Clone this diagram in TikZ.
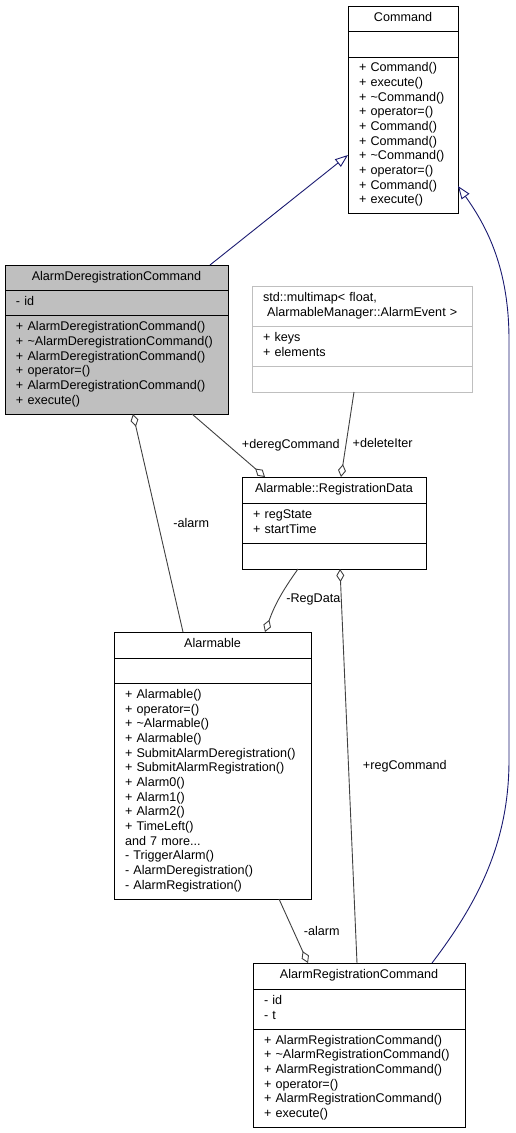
\documentclass[tikz,border=0pt]{standalone}
\usepackage{fontspec}
\setmainfont{Liberation Sans}
\usepackage{tikz}
\usetikzlibrary{positioning, arrows.meta}
\definecolor{edgegrey}{HTML}{404040}
\definecolor{inheritblue}{HTML}{191970}
\definecolor{boxgrey}{HTML}{BFBFBF}
\newcommand{\umlfont}{\fontsize{12.6}{14.67}\selectfont}
\tikzset{
    umlpart/.style={draw, line width=1pt, inner xsep=11pt, inner ysep=0pt, outer sep=0pt, align=left, font=\umlfont,
        execute at begin node=\strut, execute at end node=\strut},
    umltitle/.style={umlpart, align=center},
    aggr/.style={draw=edgegrey, line width=0.9pt, -{Diamond[open, length=13pt, width=8pt]}},
    inherit/.style={draw=inheritblue, line width=0.9pt, -{Triangle[open, length=13pt, width=9.5pt]}},
    elabel/.style={font=\umlfont, inner sep=0pt, anchor=west}
}

\begin{document}
\begin{tikzpicture}[x=1pt, y=-1pt]
    \useasboundingbox (0,0) rectangle (515,1133);

    % Command
    \node [umltitle, text width=88pt, minimum height=25.5pt, anchor=north west] (cmdTitle) at (348,6) {Command};
    \node [umlpart, text width=88pt, minimum height=25.5pt, below=0pt of cmdTitle] (cmdAttr) {};
    \node [umlpart, text width=88pt, minimum height=156pt, below=0pt of cmdAttr] (cmdMeth) {+ Command()\\+ execute()\\+ \textasciitilde Command()\\+ operator=()\\+ Command()\\+ Command()\\+ \textasciitilde Command()\\+ operator=()\\+ Command()\\+ execute()};

    % AlarmDeregistrationCommand (highlighted)
    \node [umltitle, fill=boxgrey, text width=201pt, minimum height=25pt, anchor=north west] (adcTitle) at (5,265) {AlarmDeregistrationCommand};
    \node [umlpart, fill=boxgrey, text width=201pt, minimum height=25pt, below=0pt of adcTitle] (adcAttr) {- id};
    \node [umlpart, fill=boxgrey, text width=201pt, minimum height=99pt, below=0pt of adcAttr] (adcMeth) {+ AlarmDeregistrationCommand()\\+ \textasciitilde AlarmDeregistrationCommand()\\+ AlarmDeregistrationCommand()\\+ operator=()\\+ AlarmDeregistrationCommand()\\+ execute()};

    % std::multimap
    \node [umlpart, draw=boxgrey, text width=198pt, minimum height=40pt, anchor=north west] (mmTitle) at (252,286) {std::multimap< float,\\\ AlarmableManager::AlarmEvent >};
    \node [umlpart, draw=boxgrey, text width=198pt, minimum height=40pt, below=0pt of mmTitle] (mmAttr) {+ keys\\+ elements};
    \node [umlpart, draw=boxgrey, text width=198pt, minimum height=26pt, below=0pt of mmAttr] (mmMeth) {};

    % Alarmable::RegistrationData
    \node [umltitle, text width=162pt, minimum height=26pt, anchor=north west] (rdTitle) at (242,477) {Alarmable::RegistrationData};
    \node [umlpart, text width=162pt, minimum height=40pt, below=0pt of rdTitle] (rdAttr) {+ regState\\+ startTime};
    \node [umlpart, text width=162pt, minimum height=26pt, below=0pt of rdAttr] (rdMeth) {};

    % Alarmable
    \node [umltitle, text width=175pt, minimum height=26pt, anchor=north west] (almTitle) at (114,632) {Alarmable};
    \node [umlpart, text width=175pt, minimum height=25pt, below=0pt of almTitle] (almAttr) {};
    \node [umlpart, text width=175pt, minimum height=216pt, below=0pt of almAttr] (almMeth) {+ Alarmable()\\+ operator=()\\+ \textasciitilde Alarmable()\\+ Alarmable()\\+ SubmitAlarmDeregistration()\\+ SubmitAlarmRegistration()\\+ Alarm0()\\+ Alarm1()\\+ Alarm2()\\+ TimeLeft()\\and 7 more...\\- TriggerAlarm()\\- AlarmDeregistration()\\- AlarmRegistration()};

    % AlarmRegistrationCommand
    \node [umltitle, text width=190pt, minimum height=26pt, anchor=north west] (arcTitle) at (253,963) {AlarmRegistrationCommand};
    \node [umlpart, text width=190pt, minimum height=40pt, below=0pt of arcTitle] (arcAttr) {- id\\- t};
    \node [umlpart, text width=190pt, minimum height=98pt, below=0pt of arcAttr] (arcMeth) {+ AlarmRegistrationCommand()\\+ \textasciitilde AlarmRegistrationCommand()\\+ AlarmRegistrationCommand()\\+ operator=()\\+ AlarmRegistrationCommand()\\+ execute()};

    % inheritance
    \draw [inherit] ([xshift=93.5pt]adcTitle.north) -- ([yshift=-20pt]cmdMeth.west);
    \draw [inherit] ([xshift=73pt]arcTitle.north) .. controls (480,900) and (509,840) .. (509,760) -- (509,340) .. controls (509,270) and (488,228) .. ([yshift=-51pt]cmdMeth.east);

    % aggregations
    \draw [aggr] ([xshift=75.5pt]adcMeth.south) -- node [elabel, pos=0.5, xshift=13pt] {+deregCommand} ([xshift=-69pt]rdTitle.north);
    \draw [aggr] ([xshift=-8pt]mmMeth.south) -- node [elabel, pos=0.6, xshift=6pt] {+deleteIter} ([xshift=7pt]rdTitle.north);
    \draw [aggr] ([xshift=-29.5pt]almTitle.north) -- node [elabel, pos=0.5, xshift=15pt] {-alarm} ([xshift=16.5pt]adcMeth.south);
    \draw [aggr] ([xshift=-36pt]rdMeth.south) to [bend right=8] node [elabel, pos=0.5, xshift=7pt] {-RegData} ([xshift=52.5pt]almTitle.north);
    \draw [aggr] ([xshift=-2pt]arcTitle.north) -- node [elabel, pos=0.5, xshift=14pt] {+regCommand} ([xshift=6pt]rdMeth.south);
    \draw [aggr] ([xshift=66.5pt]almMeth.south) -- node [elabel, pos=0.5, xshift=10pt] {-alarm} ([xshift=-51pt]arcTitle.north);
\end{tikzpicture}
\end{document}
